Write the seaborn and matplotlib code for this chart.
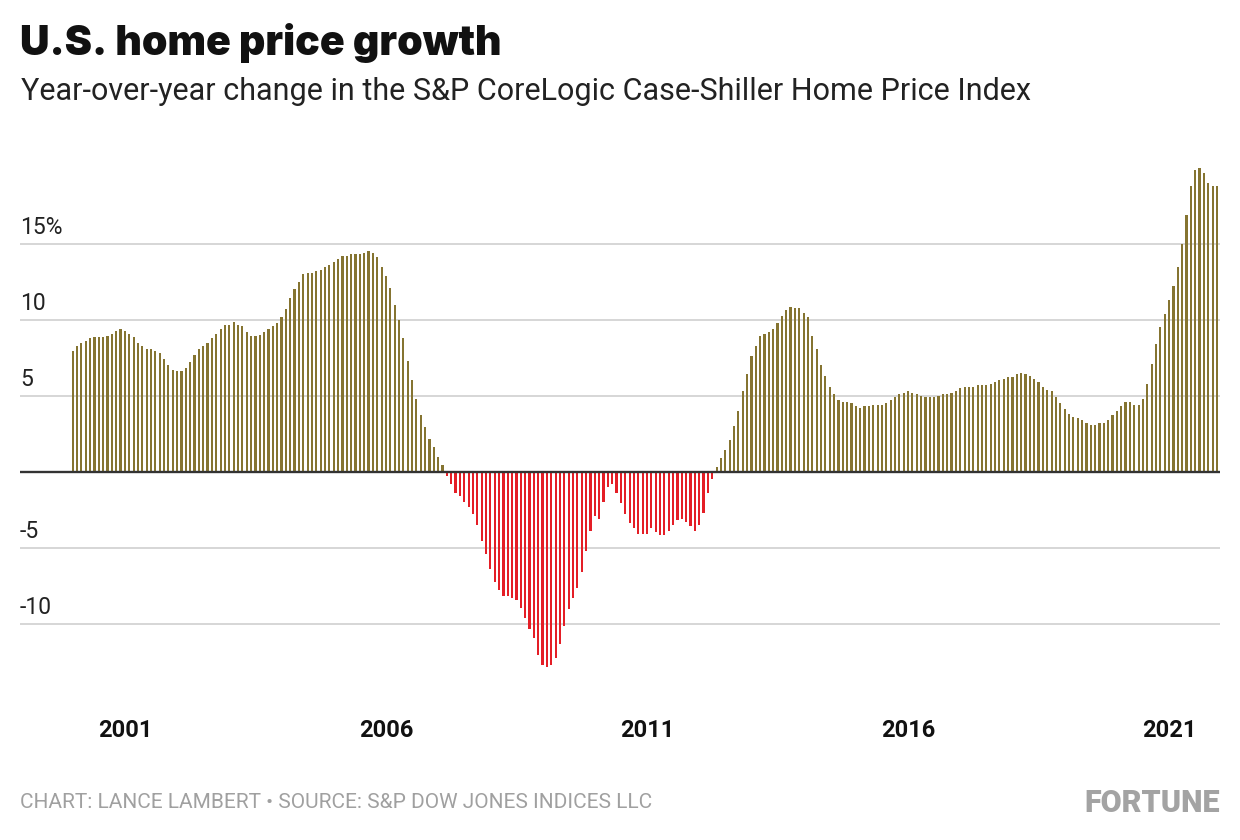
import numpy as np
import pandas as pd
import matplotlib
matplotlib.use("Agg")
import matplotlib.pyplot as plt
import seaborn as sns

"""------------------------
   Données (lues sur le graphique)
------------------------"""
# Variation sur un an (%) de l'indice Case-Shiller, mensuel, janv. 2000 -> déc. 2021
growth = [
    7.91, 8.24, 8.44, 8.61, 8.77, 8.83, 8.83, 8.83, 8.96, 9.03, 9.23, 9.36,            # 2000
    9.23, 9.03, 8.83, 8.50, 8.24, 8.04, 8.04, 7.91, 7.84, 7.44, 7.05, 6.72,            # 2001
    6.65, 6.65, 6.85, 7.25, 7.71, 8.04, 8.30, 8.50, 8.77, 9.03, 9.36, 9.63,            # 2002
    9.63, 9.82, 9.63, 9.56, 9.16, 8.96, 8.96, 9.01, 9.19, 9.36, 9.58, 9.78,            # 2003
    10.18, 10.70, 11.43, 12.03, 12.49, 13.02, 13.08, 13.08, 13.22, 13.28, 13.48, 13.61,  # 2004
    13.81, 14.01, 14.21, 14.21, 14.34, 14.34, 14.34, 14.41, 14.54, 14.41, 14.14, 13.48,  # 2005
    12.89, 12.09, 10.97, 9.98, 8.79, 7.27, 6.01, 4.76, 3.70, 2.97, 2.18, 1.65,         # 2006
    0.99, 0.46, -0.26, -0.79, -1.39, -1.59, -1.99, -2.32, -2.78, -3.51, -4.57, -5.43,  # 2007
    -6.42, -7.28, -7.81, -8.15, -8.21, -8.34, -8.41, -8.94, -9.60, -10.33, -10.93, -12.05,  # 2008
    -12.72, -12.85, -12.72, -12.25, -11.32, -10.13, -9.01, -8.34, -7.62, -6.62, -5.23, -3.91,  # 2009
    -2.91, -3.11, -1.99, -0.99, -0.79, -1.39, -2.05, -2.78, -3.38, -3.70, -4.10, -4.10,  # 2010
    -4.10, -3.70, -3.96, -4.16, -4.16, -3.90, -3.50, -3.17, -3.11, -3.30, -3.57, -3.90,  # 2011
    -3.50, -2.71, -1.39, -0.46, 0.31, 0.90, 1.43, 2.09, 3.02, 4.01, 5.33, 6.45,        # 2012
    7.64, 8.30, 8.96, 9.03, 9.16, 9.36, 9.76, 10.22, 10.62, 10.81, 10.75, 10.75,       # 2013
    10.42, 10.15, 8.96, 8.04, 7.02, 6.29, 5.57, 5.11, 4.71, 4.58, 4.58, 4.52,          # 2014
    4.32, 4.19, 4.32, 4.32, 4.39, 4.39, 4.39, 4.52, 4.71, 4.91, 5.11, 5.18,            # 2015
    5.31, 5.18, 5.11, 4.98, 4.91, 4.91, 4.91, 4.98, 5.11, 5.11, 5.18, 5.31,            # 2016
    5.50, 5.57, 5.57, 5.57, 5.70, 5.70, 5.70, 5.77, 5.90, 6.03, 6.10, 6.23,            # 2017
    6.23, 6.43, 6.49, 6.43, 6.29, 6.10, 5.90, 5.57, 5.37, 5.31, 4.91, 4.52,            # 2018
    4.12, 3.79, 3.60, 3.53, 3.40, 3.20, 3.07, 3.07, 3.20, 3.20, 3.40, 3.73,            # 2019
    3.99, 4.32, 4.58, 4.58, 4.39, 4.39, 4.78, 5.77, 7.08, 8.40, 9.52, 10.37,           # 2020
    11.29, 12.21, 13.46, 14.98, 16.89, 18.79, 19.85, 19.98, 19.65, 18.99, 18.79, 18.79,  # 2021
]
start_month = "2000-01"
tick_years = [2001, 2006, 2011, 2016, 2021]
grid_values = [-10, -5, 5, 10, 15]
grid_labels = ["-10", "-5", "5", "10", "15%"]

title = "U.S. home price growth"
subtitle = "Year-over-year change in the S&P CoreLogic Case-Shiller Home Price Index"
source = "CHART: LANCE LAMBERT \u2022 SOURCE: S&P DOW JONES INDICES LLC"

olive = "#857431"
red = "#e41e26"

months = pd.date_range(start_month, periods=len(growth), freq="MS")
df = pd.DataFrame({"mois": months, "variation": growth})
df["x"] = df["mois"].dt.year + (df["mois"].dt.month - 1) / 12
df["signe"] = np.where(df["variation"] >= 0, "hausse", "baisse")

"""------------------------
   Figure
------------------------"""
sns.set_theme(style="white")
plt.rcParams["font.family"] = ["Roboto", "DejaVu Sans"]

W, H = 1240, 840
fig = plt.figure(figsize=(W / 100, H / 100), dpi=100)
fig.patch.set_facecolor("white")
ax = fig.add_axes([20 / W, 1 - 699.7 / H, 1200 / W, (699.7 - 152.5) / H])

sns.barplot(data=df, x="x", y="variation", hue="signe",
            palette={"hausse": olive, "baisse": red},
            native_scale=True, orient="x", width=0.5, dodge=False,
            errorbar=None, saturation=1, linewidth=0, legend=False, ax=ax)

ax.set_xlim(1998.991, 2021.975)
ax.set_ylim(-15, 21)
for s in ax.spines.values():
    s.set_visible(False)
ax.set_facecolor("white")

ax.set_axisbelow(True)
ax.set_yticks(grid_values)
ax.yaxis.grid(True, color="#cfcfcf", linewidth=1.2)
ax.xaxis.grid(False)
ax.tick_params(axis="y", left=False, labelleft=False)
ax.axhline(0, color="#333333", linewidth=1.7, zorder=5)

for v, lab in zip(grid_values, grid_labels):
    ax.text(0, v + 0.62, lab, transform=ax.get_yaxis_transform(),
            ha="left", va="baseline", fontsize=16.5, color="#222222")

ax.set_xticks(tick_years)
ax.set_xticklabels([str(y) for y in tick_years], fontsize=17,
                   fontweight="bold", color="#111111")
ax.tick_params(axis="x", length=0, pad=14)
ax.set_xlabel("")
ax.set_ylabel("")

# Titres et sources
fig.text(20 / W, 1 - 55 / H, title, fontsize=29.5, fontweight="black",
         family=["Inter", "Roboto", "DejaVu Sans"],
         color="#111111", va="baseline", ha="left")
fig.text(21 / W, 1 - 100 / H, subtitle, fontsize=22, color="#222222",
         va="baseline", ha="left")
fig.text(20 / W, 1 - 808 / H, source, fontsize=15,
         color="#a0a0a0", va="baseline", ha="left")
fig.text(1220 / W, 1 - 812 / H, "FORTUNE", fontsize=22, fontweight="black",
         color="#a3a3a3", va="baseline", ha="right")

fig.savefig("out.png", dpi=100)
